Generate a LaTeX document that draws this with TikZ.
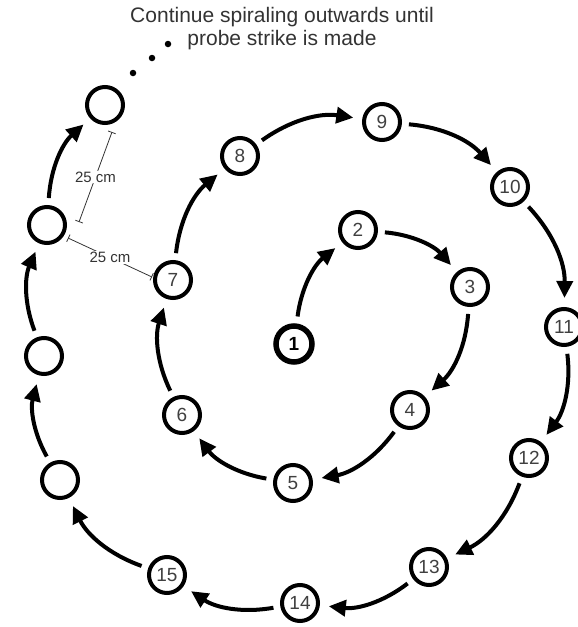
\documentclass[tikz,border=0pt]{standalone}
\usepackage{fontspec}
\setmainfont{Liberation Sans}
\usetikzlibrary{arrows.meta}
\begin{document}
\begin{tikzpicture}[x=1pt,y=1pt,
  stop/.style={circle, draw=black, line width=4pt, fill=white, minimum size=36pt,
    inner sep=0pt, font=\fontsize{19}{19}\selectfont, text=black!75},
  mv/.style={line width=4pt, -{Triangle[length=17pt,width=16pt]},
    shorten >=9pt, shorten <=7pt, bend left=22},
  dim/.style={line width=0.8pt, draw=black!80, {Bar[width=8pt]}-{Bar[width=8pt]}},
  dimlbl/.style={fill=white, inner sep=1pt, font=\fontsize{15}{15}\selectfont, text=black!80},
  dotmark/.style={circle, fill=black, inner sep=0pt, minimum size=6.5pt}
]
\useasboundingbox (0,0) rectangle (578,-627);

\node[stop, line width=5.5pt, font=\fontsize{19}{19}\bfseries, text=black] (n1) at (294,-344) {1};
\node[stop] (n2) at (358,-230) {2};
\node[stop] (n3) at (470,-287) {3};
\node[stop] (n4) at (410,-410) {4};
\node[stop] (n5) at (293,-483) {5};
\node[stop] (n6) at (182,-415) {6};
\node[stop] (n7) at (173,-280) {7};
\node[stop] (n8) at (240,-156) {8};
\node[stop] (n9) at (382,-122) {9};
\node[stop] (n10) at (510,-187) {10};
\node[stop] (n11) at (564,-327) {11};
\node[stop] (n12) at (529,-458) {12};
\node[stop] (n13) at (429,-567) {13};
\node[stop] (n14) at (300,-603) {14};
\node[stop] (n15) at (167,-575) {15};
\node[stop] (e1) at (60,-480) {};
\node[stop] (e2) at (44,-356) {};
\node[stop] (e3) at (47,-225) {};
\node[stop] (e4) at (105,-105) {};

\foreach \a/\b in {n1/n2,n2/n3,n3/n4,n4/n5,n5/n6,n6/n7,n7/n8,n8/n9,n9/n10,n10/n11,
  n11/n12,n12/n13,n13/n14,n14/n15,n15/e1,e1/e2,e2/e3,e3/e4}
  \draw[mv] (\a) to (\b);

\node[dotmark] (dt1) at (133,-73) {};
\node[dotmark] (dt2) at (152,-58) {};
\node[dotmark] (dt3) at (168,-44) {};

\node[font=\fontsize{21}{23}\selectfont, align=center, text=black!80] (note) at (282,-29)
  {Continue spiraling outwards until\\probe strike is made};

\coordinate (d1a) at (112,-132);
\coordinate (d1b) at (79,-222);
\draw[dim] (d1a) -- node[dimlbl] (l1) {25 cm} (d1b);
\coordinate (d2a) at (68,-238);
\coordinate (d2b) at (152,-277);
\draw[dim] (d2a) -- node[dimlbl] (l2) {25 cm} (d2b);
\end{tikzpicture}
\end{document}
